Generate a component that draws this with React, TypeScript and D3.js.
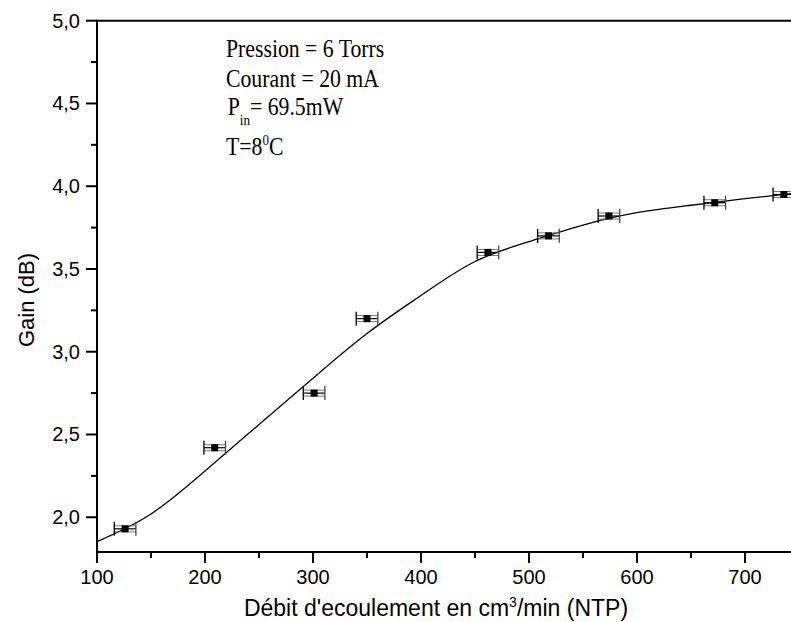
import React from 'react'
import * as d3 from 'd3'

// measured points
const flowRates = [126, 209, 301, 350, 462, 518, 574, 672, 736]
const gains = [1.93, 2.42, 2.75, 3.2, 3.6, 3.7, 3.82, 3.9, 3.95]
const flowErr = [10, 10, 10, 10, 10, 10, 10, 10, 10]

// fitted curve
const fitFlow = [100, 150, 200, 250, 300, 350, 400, 450, 500, 550, 600, 650, 700, 750]
const fitGain = [1.853, 2.02, 2.28, 2.56, 2.84, 3.11, 3.34, 3.545, 3.665, 3.765, 3.84, 3.885, 3.925, 3.96]

const xTicks = [100, 200, 300, 400, 500, 600, 700]
const xMinor = [150, 250, 350, 450, 550, 650]
const yTicks = [2.0, 2.5, 3.0, 3.5, 4.0, 4.5, 5.0]
const yMinor = [2.25, 2.75, 3.25, 3.75, 4.25, 4.75]

const W = 791
const H = 622
const sans = 'Liberation Sans, Arial, sans-serif'
const serif = 'Liberation Serif, Times New Roman, serif'

export default function App() {
  const x = d3.scaleLinear().domain([100, 742.6]).range([97, 791])
  const y = d3.scaleLinear().domain([1.79, 5.0]).range([552, 20.7])
  const fmt = (v: number) => v.toFixed(1).replace('.', ',')

  const line = d3.line<number>()
    .x((d, i) => x(fitFlow[i]))
    .y(d => y(d))
    .curve(d3.curveNatural)

  return (
    <div style={{ position: 'fixed', left: 0, top: 0 }}>
      <svg width={W} height={H} style={{ display: 'block', background: '#fff' }}>
        {/* fit */}
        <path d={line(fitGain) || ''} fill="none" stroke="#000" strokeWidth={1.3} />

        {/* points with error bars */}
        {flowRates.map((f, i) => {
          const cx = x(f)
          const cy = y(gains[i])
          const x0 = x(f - flowErr[i])
          const x1 = x(f + flowErr[i])
          return (
            <g key={i}>
              <line x1={x0} x2={x1} y1={cy - 3} y2={cy - 3} stroke="#777" strokeWidth={1} />
              <line x1={x0} x2={x1} y1={cy + 3} y2={cy + 3} stroke="#777" strokeWidth={1} />
              <line x1={x0} x2={x1} y1={cy} y2={cy} stroke="#000" strokeWidth={1.2} />
              <line x1={x0} x2={x0} y1={cy - 7} y2={cy + 7} stroke="#000" strokeWidth={1.3} />
              <line x1={x1} x2={x1} y1={cy - 7} y2={cy + 7} stroke="#444" strokeWidth={1.3} />
              <rect x={cx - 3.5} y={cy - 3.5} width={7} height={7} fill="#000" />
            </g>
          )
        })}

        {/* axes */}
        <line x1={97} x2={W} y1={y(5.0)} y2={y(5.0)} stroke="#000" strokeWidth={2} />
        <line x1={97} x2={W} y1={552} y2={552} stroke="#000" strokeWidth={2} />
        <line x1={97} x2={97} y1={y(5.0) - 1} y2={553} stroke="#000" strokeWidth={2} />

        {xTicks.map(t => (
          <g key={t}>
            <line x1={x(t)} x2={x(t)} y1={552} y2={563} stroke="#000" strokeWidth={2} />
            <text x={x(t)} y={584} textAnchor="middle" fontFamily={sans} fontSize={20}>{t}</text>
          </g>
        ))}
        {xMinor.map(t => (
          <line key={t} x1={x(t)} x2={x(t)} y1={552} y2={558} stroke="#000" strokeWidth={2} />
        ))}

        {yTicks.map(t => (
          <g key={t}>
            <line x1={86} x2={97} y1={y(t)} y2={y(t)} stroke="#000" strokeWidth={2} />
            <text x={80} y={y(t) + 7} textAnchor="end" fontFamily={sans} fontSize={20}>{fmt(t)}</text>
          </g>
        ))}
        {yMinor.map(t => (
          <line key={t} x1={91} x2={97} y1={y(t)} y2={y(t)} stroke="#000" strokeWidth={2} />
        ))}

        {/* axis titles */}
        <text x={436} y={616} textAnchor="middle" fontFamily={sans} fontSize={23}>
          Débit d'ecoulement en cm<tspan dy={-9} fontSize={14}>3</tspan><tspan dy={9}>/min (NTP)</tspan>
        </text>
        <text transform="translate(34,300) rotate(-90)" textAnchor="middle" fontFamily={sans} fontSize={22}>
          Gain (dB)
        </text>

        {/* annotation */}
        <g transform="translate(226,0) scale(0.87,1)" fontFamily={serif} fontSize={25} fill="#000">
          <text x={0} y={57}>Pression = 6 Torrs</text>
          <text x={0} y={87}>Courant = 20 mA</text>
          <text x={2} y={115}>P<tspan dy={10} fontSize={15}>in</tspan><tspan dy={-10}>= 69.5mW</tspan></text>
          <text x={0} y={155}>T=8<tspan dy={-10} fontSize={15} fill="#000">0</tspan><tspan dy={10}>C</tspan></text>
        </g>
      </svg>
    </div>
  )
}
